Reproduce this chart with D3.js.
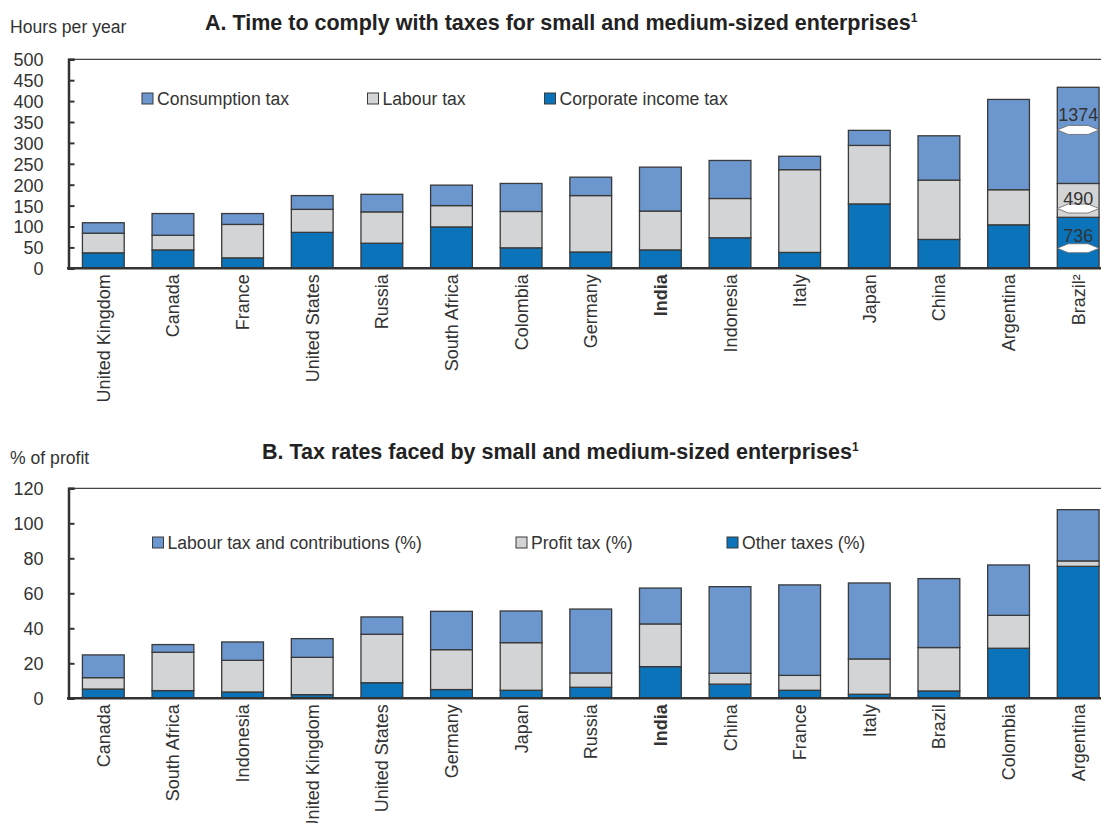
<!DOCTYPE html>
<html>
<head>
<meta charset="utf-8">
<script src="https://cdn.jsdelivr.net/npm/d3@7"></script>
<style>
  body { margin: 0; background: #fff; }
  svg text { font-family: "Liberation Sans Narrow", "Arial Narrow", "Liberation Sans", sans-serif; fill: #333; }
</style>
</head>
<body>
<div id="chart"></div>
<script>
// Panel A data (hours per year, Brazil bars are cut off)
let countriesA = ["United Kingdom", "Canada", "France", "United States", "Russia", "South Africa", "Colombia",
    "Germany", "India", "Indonesia", "Italy", "Japan", "China", "Argentina", "Brazil²"];
let corporateA = [37, 44, 25, 86, 60, 99, 49, 39, 44, 73, 38, 154, 69, 104, 122];
let labourA = [47, 35, 80, 55, 75, 51, 87, 135, 93, 94, 198, 140, 142, 84, 81];
let consumptionA = [25, 52, 26, 33, 42, 49, 67, 44, 105, 91, 32, 36, 106, 216, 230];
let brazilLabels = ["736", "490", "1374"];
let brazilBreaks = [48, 143, 331];
let brazilLabelPos = [64, 151, 352];
let ticksA = [0, 50, 100, 150, 200, 250, 300, 350, 400, 450, 500];

// Panel B data (% of profit)
let countriesB = ["Canada", "South Africa", "Indonesia", "United Kingdom", "United States", "Germany", "Japan",
    "Russia", "India", "China", "France", "Italy", "Brazil", "Colombia", "Argentina"];
let otherB = [5.3, 4.4, 3.6, 2.1, 8.9, 5, 4.6, 6.3, 18.1, 8.1, 4.6, 2.3, 4.2, 28.6, 75.4];
let profitB = [6.5, 21.9, 18.1, 21.3, 27.7, 22.8, 27.2, 8.2, 24.4, 6.2, 8.5, 20.2, 24.8, 18.8, 3.1];
let labourB = [13, 4.4, 10.5, 10.7, 9.9, 21.9, 18.1, 36.5, 20.5, 49.5, 51.7, 43.4, 39.4, 28.8, 29.3];
let ticksB = [0, 20, 40, 60, 80, 100, 120];

let width = 1101;
let height = 823;
let colLight = "#6b96ce";
let colGray = "#d3d4d6";
let colDark = "#0b73b9";
let strokeCol = "#3a3a3a";

let svg = d3.select("#chart").append("svg")
    .attr("width", width)
    .attr("height", height);

function drawPanel(opts) {
    let x = d3.scaleBand()
        .domain(opts.countries)
        .range([68.5, 1113])
        .paddingInner(0.4)
        .paddingOuter(0.2);
    let y = d3.scaleLinear()
        .domain(opts.domain)
        .range([opts.bottom, opts.top]);

    let g = svg.append("g");

    // stacked bars
    let keys = ["s0", "s1", "s2"];
    let rows = opts.countries.map((c, i) => ({
        country: c,
        s0: opts.series[0][i],
        s1: opts.series[1][i],
        s2: opts.series[2][i]
    }));
    let stack = d3.stack().keys(keys)(rows);
    let colors = [colDark, colGray, colLight];

    g.selectAll("g.layer")
        .data(stack)
        .join("g")
        .attr("class", "layer")
        .attr("fill", (d, i) => colors[i])
        .selectAll("rect")
        .data(d => d)
        .join("rect")
        .attr("x", d => x(d.data.country))
        .attr("width", x.bandwidth())
        .attr("y", d => y(d[1]))
        .attr("height", d => y(d[0]) - y(d[1]))
        .attr("stroke", strokeCol)
        .attr("stroke-width", 1.3);

    // frame top line
    g.append("line")
        .attr("x1", 68.5).attr("x2", width)
        .attr("y1", opts.top).attr("y2", opts.top)
        .attr("stroke", "#444").attr("stroke-width", 1.2);

    // y axis
    let yAxis = d3.axisLeft(y)
        .tickValues(opts.ticks)
        .tickSize(-6)
        .tickPadding(25);
    let ya = g.append("g")
        .attr("transform", "translate(68.5,0)")
        .call(yAxis);
    ya.select(".domain").attr("stroke", "#333").attr("stroke-width", 2.5);
    ya.selectAll(".tick line").attr("stroke", "#333").attr("stroke-width", 2);
    ya.selectAll(".tick text")
        .attr("font-size", 18)
        .attr("dy", "0.36em")
        .style("font-family", null);

    // x axis
    g.append("line")
        .attr("x1", 67).attr("x2", width)
        .attr("y1", opts.bottom).attr("y2", opts.bottom)
        .attr("stroke", "#333").attr("stroke-width", 2.5);

    g.selectAll("text.xlab")
        .data(opts.countries)
        .join("text")
        .attr("class", "xlab")
        .attr("transform", d => `translate(${x(d) + x.bandwidth() / 2},${opts.bottom + 6}) rotate(-90)`)
        .attr("text-anchor", "end")
        .attr("dy", "0.36em")
        .attr("font-size", 18)
        .attr("font-weight", d => d === "India" ? "bold" : null)
        .text(d => d);

    // legend
    let lg = g.selectAll("g.leg")
        .data(opts.legend)
        .join("g")
        .attr("class", "leg")
        .attr("transform", d => `translate(${d.x},${opts.legendY})`);
    lg.append("rect")
        .attr("x", 0).attr("y", -11)
        .attr("width", 11).attr("height", 11)
        .attr("fill", d => d.color)
        .attr("stroke", strokeCol)
        .attr("stroke-width", 1);
    lg.append("text")
        .attr("x", 15)
        .attr("y", 1)
        .attr("font-size", 17.6)
        .text(d => d.label);

    // titles
    svg.append("text")
        .attr("x", 10).attr("y", opts.unitY)
        .attr("font-size", 17.6)
        .text(opts.unit);
    svg.append("text")
        .attr("x", opts.titleX).attr("y", opts.titleY)
        .attr("font-size", 21.5)
        .attr("font-weight", "bold")
        .style("fill", "#222")
        .text(opts.title)
        .append("tspan")
        .attr("font-size", 12)
        .attr("dy", -8)
        .text("1");

    return { x: x, y: y, g: g };
}

let panelA = drawPanel({
    countries: countriesA,
    series: [corporateA, labourA, consumptionA],
    domain: [0, 500],
    ticks: ticksA,
    top: 59.3,
    bottom: 268.3,
    legendY: 104,
    legend: [
        { x: 142, label: "Consumption tax", color: colLight },
        { x: 367.5, label: "Labour tax", color: colGray },
        { x: 544.5, label: "Corporate income tax", color: colDark }
    ],
    unit: "Hours per year",
    unitY: 33,
    title: "A. Time to comply with taxes for small and medium-sized enterprises",
    titleX: 205,
    titleY: 30
});

let panelB = drawPanel({
    countries: countriesB,
    series: [otherB, profitB, labourB],
    domain: [0, 120],
    ticks: ticksB,
    top: 488.3,
    bottom: 698.3,
    legendY: 548,
    legend: [
        { x: 152.5, label: "Labour tax and contributions (%)", color: colLight },
        { x: 516, label: "Profit tax (%)", color: colGray },
        { x: 727, label: "Other taxes (%)", color: colDark }
    ],
    unit: "% of profit",
    unitY: 464,
    title: "B. Tax rates faced by small and medium-sized enterprises",
    titleX: 262,
    titleY: 459
});

// Brazil break marks and real values
let bx = panelA.x("Brazil²");
let bw = panelA.x.bandwidth();
let yA = panelA.y;
brazilBreaks.forEach((v, i) => {
    let yy = yA(v);
    let pts = [
        [bx, yy], [bx + 11, yy - 4.5], [bx + bw - 11, yy - 4.5],
        [bx + bw, yy], [bx + bw - 11, yy + 4.5], [bx + 11, yy + 4.5]
    ];
    panelA.g.append("polygon")
        .attr("points", pts.map(p => p.join(",")).join(" "))
        .attr("fill", "#fff")
        .attr("stroke", "#666")
        .attr("stroke-width", 0.8);
    panelA.g.append("text")
        .attr("x", bx + bw / 2)
        .attr("y", yA(brazilLabelPos[i]))
        .attr("text-anchor", "middle")
        .attr("font-size", 18)
        .text(brazilLabels[i]);
});
</script>
</body>
</html>
